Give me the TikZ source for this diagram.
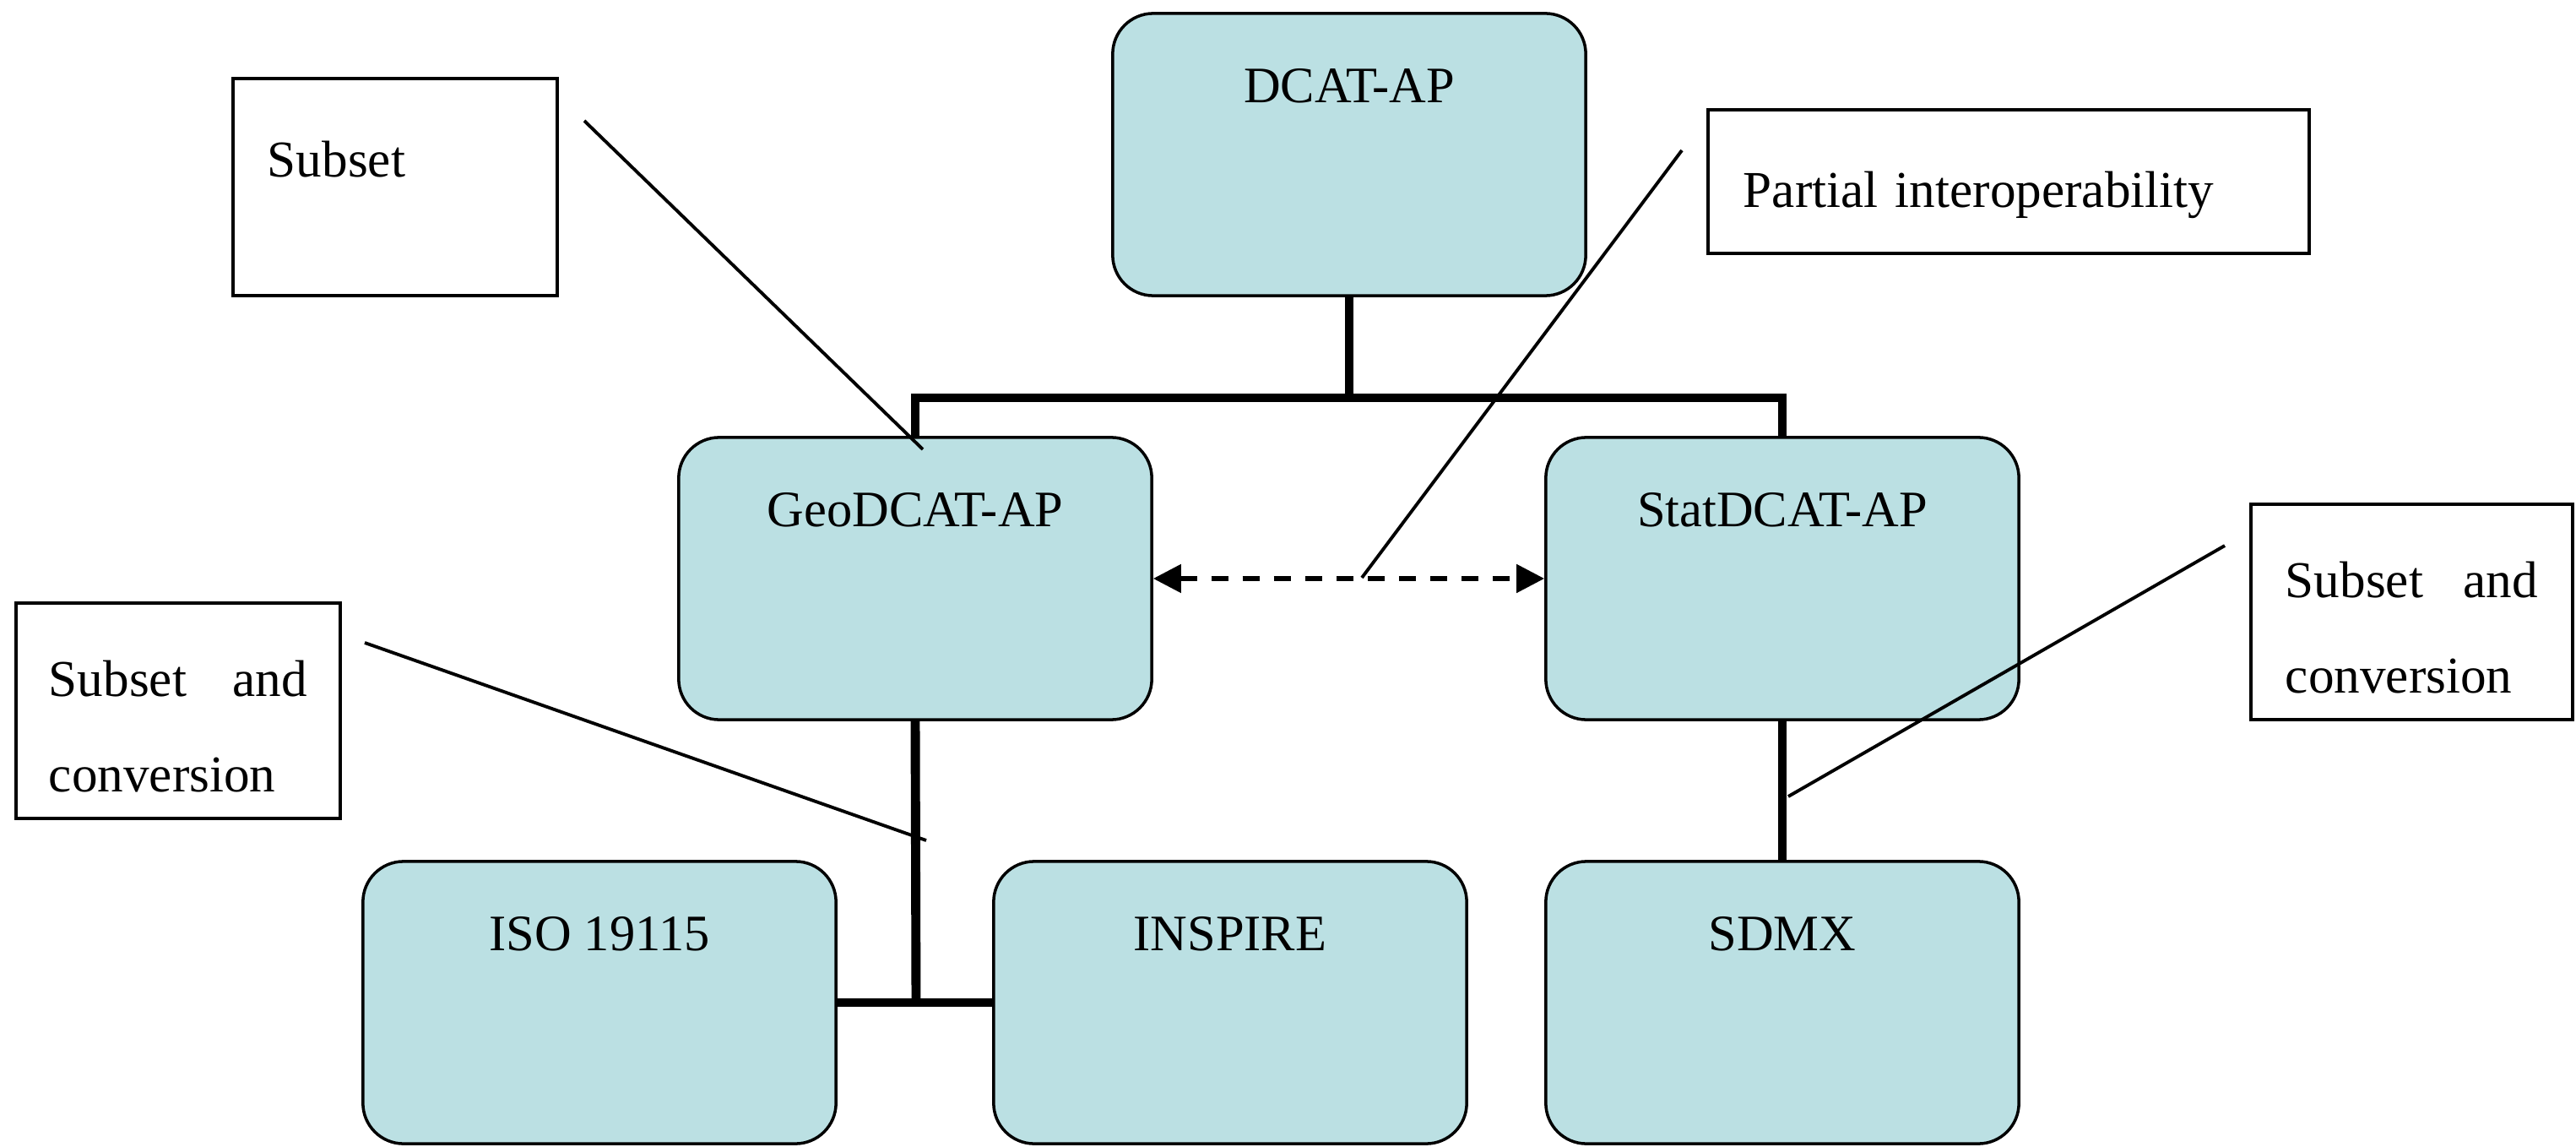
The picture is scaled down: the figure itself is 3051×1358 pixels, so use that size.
\documentclass[tikz,border=0pt]{standalone}
\usepackage{fontspec}
\setmainfont{Liberation Serif}
\usetikzlibrary{arrows.meta}
\definecolor{boxblue}{RGB}{187,224,227}
\tikzset{
  mainbox/.style={draw=black, line width=1pt, fill=boxblue, rounded corners=4.8mm,
    minimum width=5.6cm, inner sep=0pt, text height=10.6mm, text depth=22.8mm,
    font=\fontsize{17.2}{20}\selectfont},
  callout/.style={draw=black, line width=1pt, fill=white, inner ysep=0pt,
    font=\fontsize{17.4}{31.9}\selectfont, align=left},
  thickline/.style={line width=3.1pt},
  thinline/.style={line width=1.1pt},
  dasharrow/.style={line width=1.5pt, dash pattern=on 2mm off 1.7mm,
    {Triangle[length=3.3mm,width=3.3mm]}-{Triangle[length=3.3mm,width=3.3mm]}}
}
\begin{document}
\begin{tikzpicture}[x=0.01cm,y=-0.01cm]
\useasboundingbox (0,0) rectangle (3051,1358);
% main boxes
\node[mainbox] (dcat) at (1598,183) {DCAT-AP};
\node[mainbox] (geo) at (1084,685) {GeoDCAT-AP};
\node[mainbox] (stat) at (2111,685) {StatDCAT-AP};
\node[mainbox] (iso) at (710,1187) {ISO 19115};
\node[mainbox] (inspire) at (1457,1187) {INSPIRE};
\node[mainbox] (sdmx) at (2111,1187) {SDMX};
% callout boxes
\node[callout, inner xsep=4.1mm, text width=30.2mm, text height=11.7mm, text depth=14mm] (subset) at (468,221.5) {Subset};
\node[callout, inner xsep=4.2mm, text width=62.8mm, text height=11.5mm, text depth=5.5mm] (partial) at (2379,215) {Partial interoperability};
\node[callout, inner xsep=3.9mm] (scl) at (211,841.5) {\parbox[c][25.5mm][t]{30.6mm}{\rule{0pt}{11.1mm}Subset\hfill and\\conversion}};
\node[callout, inner xsep=4.1mm] (scr) at (2856.5,724.5) {\parbox[c][25.5mm][t]{29.9mm}{\rule{0pt}{11.1mm}Subset\hfill and\\conversion}};
% tree connectors
\coordinate (bar) at (1598,471);
\coordinate (low) at (1085,1187);
\draw[thickline] (dcat.south) -- (bar);
\draw[thickline] (geo.north) |- (bar) -| (stat.north);
\draw[thickline] (geo.south) -- (low);
\draw[thickline] (iso.east |- low) -- (inspire.west |- low);
\draw[thickline] (stat.south) -- (sdmx.north);
% dashed arrow
\draw[dasharrow] (geo.east) -- (stat.west);
% callout pointers
\coordinate (p1a) at (692,143);
\coordinate (p1b) at (1093,532);
\coordinate (p2a) at (1992,178);
\coordinate (p2b) at (1613,684);
\coordinate (p3a) at (432,761);
\coordinate (p3b) at (1097,995);
\coordinate (p4a) at (2635,646);
\coordinate (p4b) at (2118,943);
\draw[thinline] (p1a) -- (p1b);
\draw[thinline] (p2a) -- (p2b);
\draw[thinline] (p3a) -- (p3b);
\draw[thinline] (p4a) -- (p4b);
\end{tikzpicture}
\end{document}
